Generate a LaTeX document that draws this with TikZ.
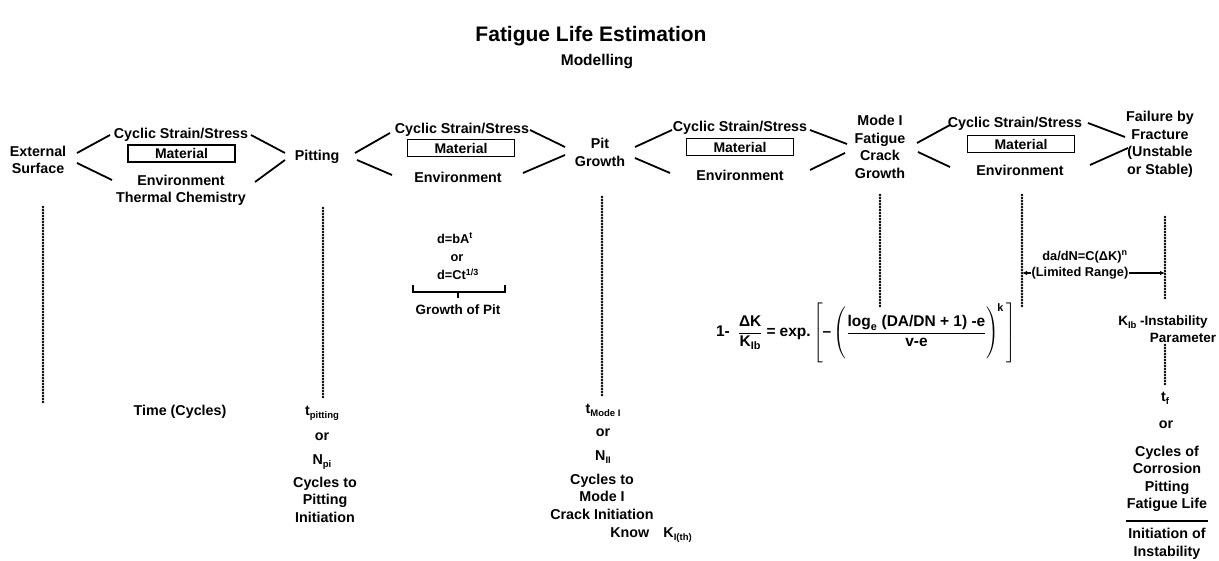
\documentclass[tikz,border=0pt]{standalone}
\usepackage{fontspec}
\usepackage{amsmath}
\setmainfont{Liberation Sans}
\usetikzlibrary{arrows.meta}
\newcommand\lsub[1]{\raisebox{-0.4ex}{\fontsize{9.5}{10}\selectfont #1}}
\begin{document}
\begin{tikzpicture}[x=1pt,y=-1pt]
\tikzset{
  lbl/.style={font=\bfseries\fontsize{14.3}{17.5}\selectfont, inner sep=0pt, align=center},
  small/.style={font=\bfseries\fontsize{12.8}{15}\selectfont, inner sep=0pt, align=center},
  matbox/.style={draw, line width=1.8pt, minimum width=107pt, minimum height=17pt, inner sep=0pt, font=\bfseries\fontsize{14}{17}\selectfont},
  link/.style={line width=1.8pt},
  dotline/.style={line width=2.8pt, line cap=round, dash pattern=on 0pt off 3pt},
  rule/.style={line width=1.8pt},
  dim/.style={line width=1.2pt, -{Latex[length=5pt,width=4.5pt]}}
}
\useasboundingbox (0,0) rectangle (1219,561);

% titles
\node[lbl, font=\bfseries\fontsize{21}{23}\selectfont] (title) at (591,36) {Fatigue Life Estimation};
\node[lbl, font=\bfseries\fontsize{15.5}{17}\selectfont] (model) at (597,62) {Modelling};

% top row
\node[lbl] (ext) at (38,160) {External\\Surface};
\node[lbl] (cs1) at (181,135) {Cyclic Strain/Stress};
\node[matbox] (mat1) at (181.5,153.5) {Material};
\node[lbl] (env1) at (181,190.5) {Environment\\Thermal Chemistry};
\node[lbl] (pit) at (317,157) {Pitting};
\node[lbl] (cs2) at (462,130) {Cyclic Strain/Stress};
\node[matbox] (mat2) at (461,148) {Material};
\node[lbl] (env2) at (458,177) {Environment};
\node[lbl] (pg) at (600,152.5) {Pit\\Growth};
\node[lbl] (cs3) at (740,128) {Cyclic Strain/Stress};
\node[matbox] (mat3) at (740,147) {Material};
\node[lbl] (env3) at (740,175) {Environment};
\node[lbl] (mode) at (880,147) {Mode I\\Fatigue\\Crack\\Growth};
\node[lbl] (cs4) at (1015,124) {Cyclic Strain/Stress};
\node[matbox] (mat4) at (1021,144) {Material};
\node[lbl] (env4) at (1020,170) {Environment};
\node[lbl] (fail) at (1160,144.5) {Failure by\\Fracture\\(Unstable\\or Stable)};

% connector end points
\coordinate (a1) at (77,153); \coordinate (a2) at (110,135);
\coordinate (a3) at (77,163); \coordinate (a4) at (112,180);
\coordinate (a5) at (251,135); \coordinate (a6) at (285,153);
\coordinate (a7) at (255,182); \coordinate (a8) at (285,160);
\coordinate (b1) at (355,153); \coordinate (b2) at (390,133);
\coordinate (b3) at (357,160); \coordinate (b4) at (392,175);
\coordinate (b5) at (530,130); \coordinate (b6) at (565,147);
\coordinate (b7) at (523,173); \coordinate (b8) at (565,155);
\coordinate (c1) at (635,147); \coordinate (c2) at (672,130);
\coordinate (c3) at (635,158); \coordinate (c4) at (670,173);
\coordinate (c5) at (810,130); \coordinate (c6) at (847,144);
\coordinate (c7) at (810,170); \coordinate (c8) at (845,153);
\coordinate (e1) at (917,143); \coordinate (e2) at (950,125);
\coordinate (e3) at (918,152); \coordinate (e4) at (950,167);
\coordinate (e5) at (1088,123); \coordinate (e6) at (1125,137);
\coordinate (e7) at (1090,165); \coordinate (e8) at (1128,148);
\draw[link] (a1) -- (a2); \draw[link] (a3) -- (a4);
\draw[link] (a5) -- (a6); \draw[link] (a7) -- (a8);
\draw[link] (b1) -- (b2); \draw[link] (b3) -- (b4);
\draw[link] (b5) -- (b6); \draw[link] (b7) -- (b8);
\draw[link] (c1) -- (c2); \draw[link] (c3) -- (c4);
\draw[link] (c5) -- (c6); \draw[link] (c7) -- (c8);
\draw[link] (e1) -- (e2); \draw[link] (e3) -- (e4);
\draw[link] (e5) -- (e6); \draw[link] (e7) -- (e8);

% dotted time lines
\coordinate (d1t) at (43,207); \coordinate (d1b) at (43,402);
\coordinate (d2t) at (323,208); \coordinate (d2b) at (323,397);
\coordinate (d3t) at (602,197); \coordinate (d3b) at (602,395);
\coordinate (d4t) at (880,195); \coordinate (d4b) at (880,308);
\coordinate (d5t) at (1022,195); \coordinate (d5b) at (1022,308);
\coordinate (d6t) at (1165,217); \coordinate (d6b) at (1165,300);
\coordinate (d7t) at (1165,345); \coordinate (d7b) at (1165,385);
\draw[dotline] (d1t) -- (d1b);
\draw[dotline] (d2t) -- (d2b);
\draw[dotline] (d3t) -- (d3b);
\draw[dotline] (d4t) -- (d4b);
\draw[dotline] (d5t) -- (d5b);
\draw[dotline] (d6t) -- (d6b);
\draw[dotline] (d7t) -- (d7b);

% growth of pit
\node[small] (dba) at (455,238) {d=bA\textsuperscript{t}};
\node[small] (or0) at (457,258) {or};
\node[small] (dct) at (458,274) {d=Ct\textsuperscript{1/3}};
\draw[rule] (413,285) -- (413,292) -- (505,292) -- (505,285);
\draw[rule] (458,292) -- (458,298);
\node[small, font=\bfseries\fontsize{13.5}{15}\selectfont] (gop) at (458,310) {Growth of Pit};

% crack growth law
\node[small] (dadn) at (1085,257) {da/dN=C(ΔK)\textsuperscript{n}};
\node[small] (lim) at (1080,273) {(Limited Range)};
\coordinate (l1) at (1022,273); \coordinate (l2) at (1165,273);
\draw[dim] (lim.west) -- (l1);
\draw[dim] (lim.east) -- (l2);

% formula
\node[inner sep=0pt, font=\bfseries\fontsize{15.5}{17}\selectfont] (frm) at (866,334)
  {$\text{1-}\;\;\dfrac{\text{ΔK}}{\text{K}_{\text{Ib}}}\;\text{=}\;\text{exp.}\left[\rule[-29pt]{0pt}{58pt}\text{–}\left(\rule[-24pt]{0pt}{48pt}\dfrac{\text{log}_{\text{e}}\text{ (DA/DN + 1) -e}}{\text{v-e}}\right)^{\!\text{k}}\,\right]$};

\node[small, font=\bfseries\fontsize{13.5}{15}\selectfont] (kib) at (1163,322) {K\lsub{Ib} -Instability};
\node[small, font=\bfseries\fontsize{13.5}{15}\selectfont] (param) at (1183,338) {Parameter};

% bottom texts
\node[lbl] (time) at (180,412) {Time (Cycles)};
\node[lbl] (tpit) at (322,413) {t\lsub{pitting}};
\node[lbl] (or1) at (322,437) {or};
\node[lbl] (npi) at (322,462) {N\lsub{pi}};
\node[lbl] (cpi) at (325,499.5) {Cycles to\\Pitting\\Initiation};

\node[lbl] (tmode) at (603,410) {t\lsub{Mode I}};
\node[lbl] (or2) at (603,433) {or};
\node[lbl] (nii) at (603,457) {N\lsub{II}};
\node[lbl] (cmi) at (602,496.5) {Cycles to\\Mode I\\Crack Initiation};
\node[lbl] (know) at (651,535) {Know\quad K\lsub{I(th)}};

\node[lbl] (tf) at (1165,398) {t\lsub{f}};
\node[lbl] (or3) at (1166,425) {or};
\node[lbl] (cyc) at (1167,479) {Cycles of\\Corrosion\\Pitting\\Fatigue Life};
\draw[rule] (1126,521) -- (1208,521);
\node[lbl] (inst) at (1167,544) {Initiation of\\Instability};
\end{tikzpicture}
\end{document}
